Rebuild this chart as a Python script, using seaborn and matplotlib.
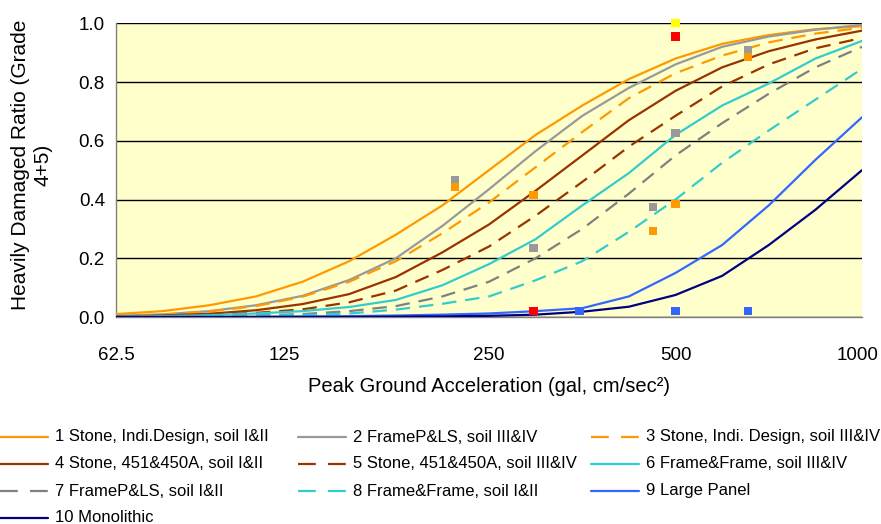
import matplotlib
matplotlib.use("Agg")
import matplotlib.pyplot as plt
from matplotlib.lines import Line2D
from matplotlib.transforms import ScaledTranslation
from matplotlib.ticker import NullLocator
import pandas as pd
import seaborn as sns

# Peak ground acceleration (gal) at quarter-octave steps
pga = [62.5, 74.3, 88.4, 105.1, 125.0, 148.7, 176.8, 210.2, 250.0,
       297.3, 353.6, 420.4, 500.0, 594.6, 707.1, 840.9, 1000.0]

# Heavily damaged ratio (grade 4+5) for each building class
stone_indi_12 = [0.01, 0.02, 0.04, 0.07, 0.12, 0.19, 0.28, 0.38, 0.50,
                 0.62, 0.72, 0.81, 0.88, 0.93, 0.96, 0.98, 0.99]
framepls_34 = [0.004, 0.009, 0.02, 0.04, 0.072, 0.126, 0.20, 0.31, 0.435,
               0.565, 0.685, 0.78, 0.86, 0.92, 0.955, 0.978, 0.995]
stone_indi_34 = [0.004, 0.008, 0.019, 0.037, 0.069, 0.12, 0.19, 0.285, 0.39,
                 0.51, 0.63, 0.745, 0.83, 0.89, 0.935, 0.965, 0.985]
stone_451_12 = [0.002, 0.005, 0.011, 0.023, 0.044, 0.078, 0.136, 0.22, 0.315,
                0.43, 0.55, 0.67, 0.77, 0.85, 0.905, 0.945, 0.975]
stone_451_34 = [0.001, 0.003, 0.007, 0.014, 0.026, 0.05, 0.09, 0.16, 0.24,
                0.345, 0.46, 0.58, 0.685, 0.785, 0.86, 0.915, 0.95]
frameframe_34 = [0.001, 0.003, 0.006, 0.012, 0.02, 0.034, 0.058, 0.108, 0.18,
                 0.265, 0.38, 0.49, 0.62, 0.72, 0.795, 0.88, 0.94]
framepls_12 = [0.0005, 0.001, 0.002, 0.005, 0.01, 0.02, 0.037, 0.07, 0.12,
               0.20, 0.30, 0.42, 0.55, 0.66, 0.76, 0.85, 0.92]
frameframe_12 = [0.0, 0.001, 0.002, 0.004, 0.007, 0.012, 0.025, 0.045, 0.07,
                 0.125, 0.19, 0.29, 0.40, 0.525, 0.635, 0.74, 0.845]
large_panel = [0.0, 0.0, 0.0, 0.001, 0.002, 0.003, 0.005, 0.008, 0.012,
               0.02, 0.03, 0.07, 0.15, 0.245, 0.38, 0.535, 0.68]
monolithic = [0.0, 0.0, 0.0, 0.0, 0.0, 0.0, 0.001, 0.002, 0.004,
              0.008, 0.018, 0.035, 0.075, 0.14, 0.245, 0.365, 0.50]

series_names = ["1 Stone, Indi.Design, soil I&II", "2 FrameP&LS, soil III&IV",
                "3 Stone, Indi. Design, soil III&IV", "4 Stone, 451&450A, soil I&II",
                "5 Stone, 451&450A, soil III&IV", "6 Frame&Frame, soil III&IV",
                "7 FrameP&LS, soil I&II", "8 Frame&Frame, soil I&II",
                "9 Large Panel", "10 Monolithic"]
series_values = [stone_indi_12, framepls_34, stone_indi_34, stone_451_12,
                 stone_451_34, frameframe_34, framepls_12, frameframe_12,
                 large_panel, monolithic]
series_colors = ["#FF9900", "#999999", "#FF9900", "#993300", "#993300",
                 "#33CCCC", "#808080", "#33CCCC", "#3366FF", "#000080"]
series_dashed = [False, False, True, False, True, False, True, True, False, False]

# Observed damage ratios
obs_pga = [500, 500, 655, 655, 220, 220, 295, 295, 295, 350, 460, 460, 500, 500, 500, 655]
obs_ratio = [1.0, 0.955, 0.91, 0.885, 0.467, 0.444, 0.416, 0.234, 0.021, 0.021,
             0.374, 0.294, 0.626, 0.384, 0.021, 0.021]
obs_group = ["yellow", "red", "gray", "orange", "gray", "orange", "orange", "gray",
             "red", "blue", "gray", "orange", "gray", "orange", "blue", "blue"]
obs_palette = {"yellow": "#FFFF00", "red": "#FF0000", "gray": "#999999",
               "orange": "#FF9900", "blue": "#3366FF"}

x_ticks = [62.5, 125, 250, 500, 1000]
x_tick_labels = ["62.5", "125", "250", "500", "1000"]
y_ticks = [0.0, 0.2, 0.4, 0.6, 0.8, 1.0]
y_tick_labels = ["0.0", "0.2", "0.4", "0.6", "0.8", "1.0"]

sns.set_theme(style="white")
plt.rcParams["font.family"] = ["Liberation Sans", "DejaVu Sans"]

W, H = 881, 524
fig = plt.figure(figsize=(W / 100, H / 100), dpi=100)
ax = fig.add_axes([116 / W, 1 - 317 / H, 746 / W, 293.7 / H])
ax.set_facecolor("#FFFFCC")

LW = 1.6
PLOT_DASH = (6.5, 4)

df = pd.DataFrame({
    "pga": pga * len(series_names),
    "ratio": [v for vals in series_values for v in vals],
    "series": [n for n in series_names for _ in pga],
})
palette = dict(zip(series_names, series_colors))
dashes = {n: (PLOT_DASH if d else "") for n, d in zip(series_names, series_dashed)}
sns.lineplot(data=df, x="pga", y="ratio", hue="series", style="series",
             hue_order=series_names, style_order=series_names,
             palette=palette, dashes=dashes, linewidth=LW, sort=False,
             legend=False, ax=ax, zorder=3)

obs = pd.DataFrame({"pga": obs_pga, "ratio": obs_ratio, "group": obs_group})
sns.scatterplot(data=obs, x="pga", y="ratio", hue="group", palette=obs_palette,
                marker="s", s=34, linewidth=0, legend=False, ax=ax,
                zorder=5, clip_on=False)

ax.set_xscale("log", base=2)
ax.set_xlim(62.5, 1000)
ax.set_ylim(0, 1)
ax.set_xticks(x_ticks)
ax.set_xticklabels(x_tick_labels)
ax.xaxis.set_minor_locator(NullLocator())
ax.set_yticks(y_ticks)
ax.set_yticklabels(y_tick_labels)

ax.set_axisbelow(True)
ax.grid(axis="y", color="black", linewidth=1.0)
ax.grid(axis="x", visible=False)
for side in ("top", "right"):
    ax.spines[side].set_visible(False)
for side in ("left", "bottom"):
    ax.spines[side].set_color("#808080")
    ax.spines[side].set_linewidth(1.0)

ax.tick_params(axis="x", direction="inout", length=5, width=1, color="#808080",
               pad=19, labelsize=13.5, labelcolor="black")
ax.tick_params(axis="y", length=0, pad=8, labelsize=13.5, labelcolor="black")

# small horizontal nudges for the 125 and 1000 labels
x_major = ax.xaxis.get_major_ticks()
for idx, dx in ((1, -18), (4, -4)):
    lbl = x_major[idx].label1
    lbl.set_transform(lbl.get_transform() + ScaledTranslation(dx / 100, 0, fig.dpi_scale_trans))

ax.set_xlabel("Peak Ground Acceleration (gal, cm/sec²)", fontsize=14.5, color="black")
ax.xaxis.set_label_coords(0.5, (317 - 386) / 293.7)
ax.xaxis.label.set_va("center")
ax.set_ylabel("Heavily Damaged Ratio (Grade\n4+5)", fontsize=15, color="black",
              multialignment="center", linespacing=1.2)
ax.yaxis.set_label_coords((32 - 116) / 746, (317 - 165) / 293.7)
ax.yaxis.label.set_va("center")

# legend laid out row by row in three fixed columns
LEG_DASH = (8, 5.5)
col_x = [0, 298, 591]
row_y = [437, 464, 491, 518]
for k, (name, color, dashed) in enumerate(zip(series_names, series_colors, series_dashed)):
    r, c = divmod(k, 3)
    x0, y0 = col_x[c], row_y[r]
    yf = 1 - y0 / H
    ls = (0, LEG_DASH) if dashed else "-"
    fig.add_artist(Line2D([x0 / W, (x0 + 48) / W], [yf, yf], color=color,
                          linewidth=LW, linestyle=ls, transform=fig.transFigure))
    fig.text((x0 + 55) / W, yf, name, fontsize=12, va="center", ha="left",
             color="black")

fig.savefig("out.png", dpi=100, facecolor="white")
